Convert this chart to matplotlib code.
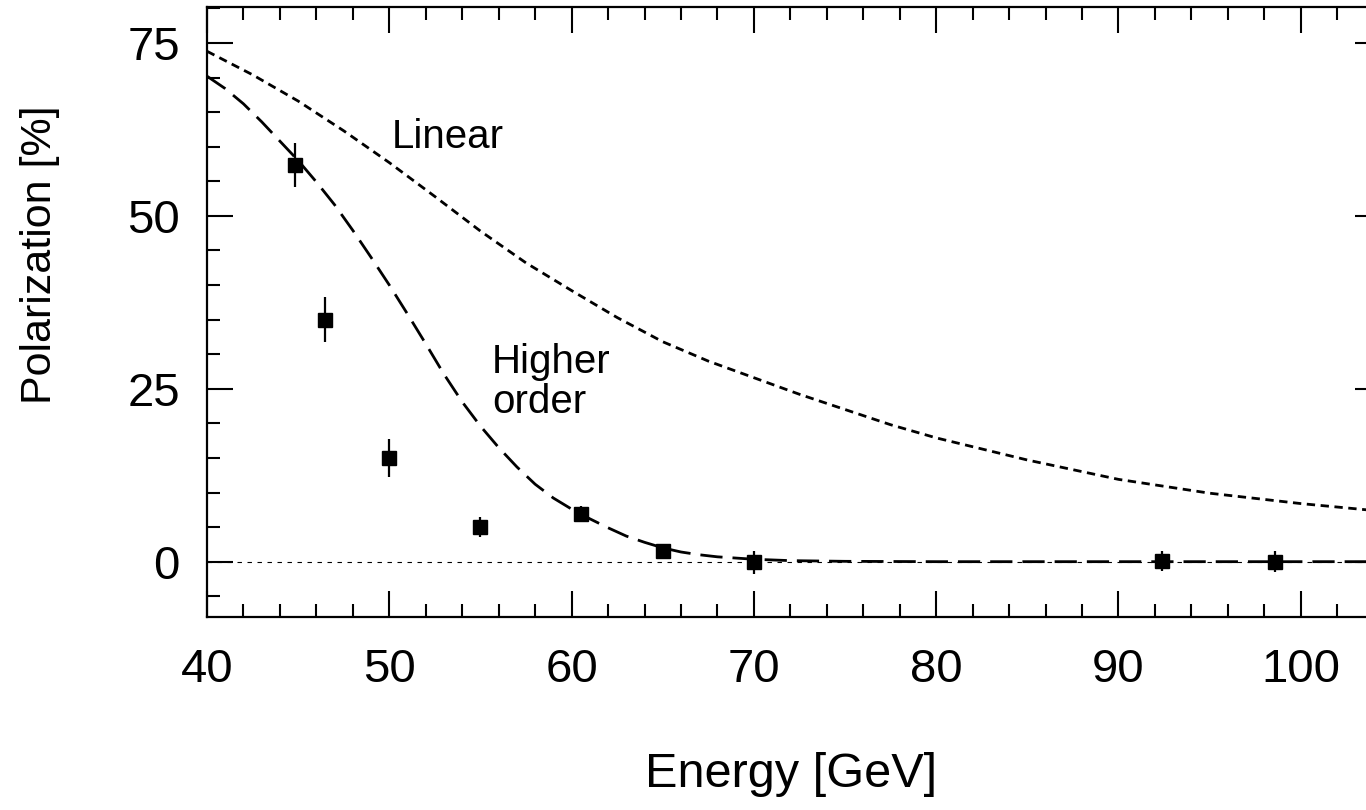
import numpy as np
import matplotlib
matplotlib.use("Agg")
import matplotlib.pyplot as plt
from matplotlib.ticker import MultipleLocator

# Données
energy = [44.8, 46.5, 50.0, 55.0, 60.5, 65.0, 70.0, 92.4, 98.6]
pol = [57.4, 35.0, 15.0, 5.0, 6.9, 1.6, -0.1, 0.1, 0.0]
err = [3.2, 3.3, 2.7, 1.5, 1.2, 1.0, 1.7, 1.5, 1.5]

linear_e = [40, 42.5, 45, 47.5, 50, 52.5, 55, 57.5, 60, 62.5, 65, 67.5, 70, 72.5,
            75, 77.5, 80, 85, 90, 95, 100, 104.4]
linear_p = [73.8, 70.4, 66.6, 62.3, 57.7, 52.8, 47.8, 43.2, 39.2, 35.3, 31.8, 29.0,
            26.6, 24.2, 22.0, 19.8, 17.9, 14.7, 11.9, 9.9, 8.4, 7.3]

higher_e = [40, 41, 42, 43, 44, 45, 46, 47, 48, 49, 50, 51, 52, 53, 54, 55, 56, 57,
            58, 59, 60, 61, 62, 63, 64, 65, 66, 67, 68, 70, 72, 75, 80, 90, 104.4]
higher_p = [70.2, 68.4, 66.2, 63.6, 60.8, 58.0, 54.9, 51.6, 47.9, 44.0, 40.0, 35.8,
            31.5, 27.1, 23.1, 19.6, 16.5, 13.7, 11.2, 9.2, 7.6, 6.2, 4.9, 3.7, 2.8,
            2.0, 1.4, 1.0, 0.7, 0.35, 0.15, 0.05, 0.0, 0.0, 0.0]

plt.rcParams["font.family"] = ["Liberation Sans", "DejaVu Sans"]

W, H = 1366, 810
fig = plt.figure(figsize=(W / 100, H / 100), dpi=100)
# axes qui dépasse à droite (figure rognée)
ax = fig.add_axes([207 / W, 1 - 617 / H, 1174 / W, 610 / H])

# ligne du zéro
ax.axhline(0, color="black", lw=0.8, linestyle=(0, (4, 5)))

# courbes
ax.plot(linear_e, linear_p, color="black", lw=2.0, dashes=(3.0, 2.0))
ax.plot(higher_e, higher_p, color="black", lw=2.0, dashes=(8.0, 3.6))

# points de mesure
ax.errorbar(energy, pol, yerr=err, fmt="s", color="black", ms=10,
            elinewidth=1.6, capsize=0)

ax.text(50.15, 59.8, "Linear", fontsize=29, ha="left", va="baseline")
ax.text(55.64, 27.3, "Higher", fontsize=29, ha="left", va="baseline")
ax.text(55.64, 21.5, "order", fontsize=29, ha="left", va="baseline")

ax.set_xlim(40, 104.4)
ax.set_ylim(-8, 80.2)
ax.xaxis.set_major_locator(MultipleLocator(10))
ax.xaxis.set_minor_locator(MultipleLocator(2))
ax.yaxis.set_major_locator(MultipleLocator(25))
ax.yaxis.set_minor_locator(MultipleLocator(5))

ax.tick_params(which="both", direction="in", top=True, right=True, width=1.5,
               labelsize=34)
ax.tick_params(which="major", length=18.7)
ax.tick_params(which="minor", length=9.4)
ax.tick_params(axis="x", which="major", pad=22)
ax.tick_params(axis="y", which="major", pad=19.5)
for s in ax.spines.values():
    s.set_linewidth(1.6)

fig.text(791 / W, 1 - 787 / H, "Energy [GeV]", fontsize=35, ha="center", va="baseline")
fig.text(40 / W, 1 - 255 / H, "Polarization [%]", fontsize=31, ha="center",
         va="center", rotation=90)

fig.savefig("out.png", dpi=100)
